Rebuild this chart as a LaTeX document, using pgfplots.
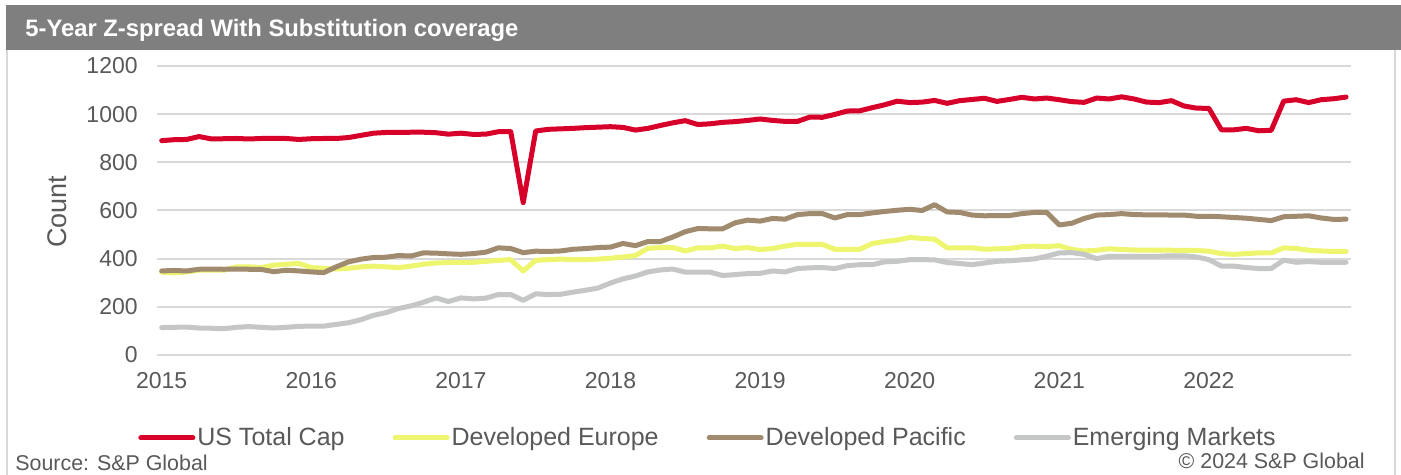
\documentclass[border=0pt]{standalone}
\usepackage{pgfplots}
\pgfplotsset{compat=1.18}
\usepackage{pgfplotstable}
\usepackage{fontspec}
\setmainfont{Liberation Sans}
\definecolor{spred}{HTML}{D6002A}
\definecolor{spyellow}{HTML}{EEF56E}
\definecolor{spbrown}{HTML}{A08B6E}
\definecolor{spgray}{HTML}{C5C6C6}
\definecolor{txt}{HTML}{595959}
\definecolor{gridc}{HTML}{D9D9D9}
\definecolor{barc}{HTML}{7F7F7F}
\pgfplotstableread{
m us eu pac em
0 890 344 349 114
1 894 341 351 115
2 895 345 349 116
3 907 352 356 112
4 897 352 357 111
5 898 352 356 109
6 899 366 357 115
7 897 366 356 118
8 899 363 355 115
9 899 373 346 112
10 899 377 352 115
11 895 380 349 119
12 898 363 345 120
13 899 360 342 120
14 899 357 366 127
15 903 360 387 134
16 912 366 398 147
17 921 369 405 165
18 924 366 406 176
19 924 363 413 193
20 925 369 411 204
21 925 377 424 219
22 923 382 423 237
23 917 384 420 222
24 921 385 418 237
25 916 385 421 233
26 917 389 427 236
27 927 393 445 251
28 927 396 442 251
29 633 349 425 227
30 930 393 431 254
31 937 396 430 251
32 939 398 432 252
33 941 396 439 261
34 944 396 442 269
35 946 398 446 278
36 948 402 448 299
37 945 407 463 316
38 934 413 454 328
39 941 443 471 345
40 953 446 471 353
41 964 446 490 357
42 973 432 512 344
43 957 445 525 344
44 960 445 524 344
45 966 452 524 330
46 969 442 549 334
47 974 446 560 338
48 980 438 556 339
49 974 442 567 349
50 970 452 564 345
51 970 460 583 359
52 988 459 587 362
53 987 459 587 363
54 999 439 569 359
55 1013 438 583 371
56 1014 439 583 375
57 1027 463 590 375
58 1039 471 596 387
59 1054 477 601 389
60 1048 488 605 396
61 1050 484 600 396
62 1057 481 624 395
63 1045 445 594 384
64 1056 445 592 380
65 1061 445 581 375
66 1066 439 578 382
67 1053 441 579 389
68 1061 442 579 391
69 1070 450 587 395
70 1063 452 592 399
71 1067 450 592 410
72 1060 454 540 424
73 1052 438 547 425
74 1049 432 567 418
75 1067 435 581 400
76 1063 441 583 410
77 1072 438 587 410
78 1063 436 583 410
79 1050 435 582 410
80 1048 435 582 410
81 1056 435 581 412
82 1034 434 581 412
83 1025 434 576 407
84 1024 431 576 396
85 935 421 574 369
86 935 418 571 369
87 941 421 568 363
88 931 424 563 359
89 933 424 558 359
90 1054 445 574 394
91 1060 442 576 385
92 1048 435 578 388
93 1060 432 569 385
94 1064 430 563 385
95 1071 430 564 385
}\data
\begin{document}
\begin{tikzpicture}
\useasboundingbox (0pt,0pt) rectangle (700.5pt,-237.5pt);
\fill[white] (0pt,0pt) rectangle (700.5pt,-237.5pt);
% title bar
\fill[barc] (3pt,-2.5pt) rectangle (700.5pt,-25pt);
\node[anchor=base west, inner sep=0pt, text=white, font=\fontsize{11.9pt}{14pt}\selectfont\bfseries] at (12.5pt,-18.4pt) {5-Year Z-spread With Substitution coverage};
% frame lines
\draw[gridc, line width=1pt] (3.5pt,-25pt) -- (3.5pt,-237.5pt);
\draw[gridc, line width=1pt] (697.5pt,-25pt) -- (697.5pt,-237.5pt);
\begin{axis}[
  at={(78.35pt,-177.5pt)}, anchor=south west,
  scale only axis, width=597.15pt, height=144.5pt,
  xmin=-0.4, xmax=95.4, ymin=0, ymax=1200,
  xtick={0,12,24,36,48,60,72,84},
  xticklabels={2015,2016,2017,2018,2019,2020,2021,2022},
  ytick={0,200,400,600,800,1000,1200},
  axis line style={draw=none},
  major tick length=0pt,
  tick style={draw=none},
  xmajorgrids=false, xminorgrids=false,
  ymajorgrids=true,
  y grid style={draw=gridc, line width=1pt},
  /pgf/number format/assume math mode=true,
  /pgf/number format/1000 sep={},
  tick label style={text=txt, font=\fontsize{11.5pt}{13pt}\selectfont},
  xticklabel style={yshift=-5pt},
  yticklabel style={xshift=-6pt},
  ylabel={Count},
  ylabel style={at={(axis description cs:-0.0835,0.495)}, anchor=center, text=txt, font=\fontsize{13.5pt}{15pt}\selectfont},
  legend columns=4,
  legend style={at={(axis description cs:0.4616,-0.287)}, anchor=center, draw=none, fill=none,
    font=\fontsize{12.5pt}{14pt}\selectfont, text=txt,
    /tikz/every even column/.append style={column sep=23pt},
    nodes={inner sep=1pt}},
  legend image code/.code={\draw[#1, line width=2.5pt, line cap=round] (0pt,0pt) -- (26pt,0pt);},
  every axis plot/.append style={line width=2.5pt, line join=round, line cap=round},
]
\addplot[spred] table[x=m, y=us] {\data};
\addlegendentry{US Total Cap}
\addplot[spyellow] table[x=m, y=eu] {\data};
\addlegendentry{Developed Europe}
\addplot[spbrown] table[x=m, y=pac] {\data};
\addlegendentry{Developed Pacific}
\addplot[spgray] table[x=m, y=em] {\data};
\addlegendentry{Emerging Markets}
\end{axis}
\node[anchor=west, inner sep=0pt, text=txt, font=\fontsize{10.7pt}{12pt}\selectfont] at (7.5pt,-231.5pt) {Source: S\&P Global};
\node[anchor=east, inner sep=0pt, text=txt, font=\fontsize{10.7pt}{12pt}\selectfont] at (682.5pt,-230.5pt) {© 2024 S\&P Global};
\end{tikzpicture}
\end{document}
